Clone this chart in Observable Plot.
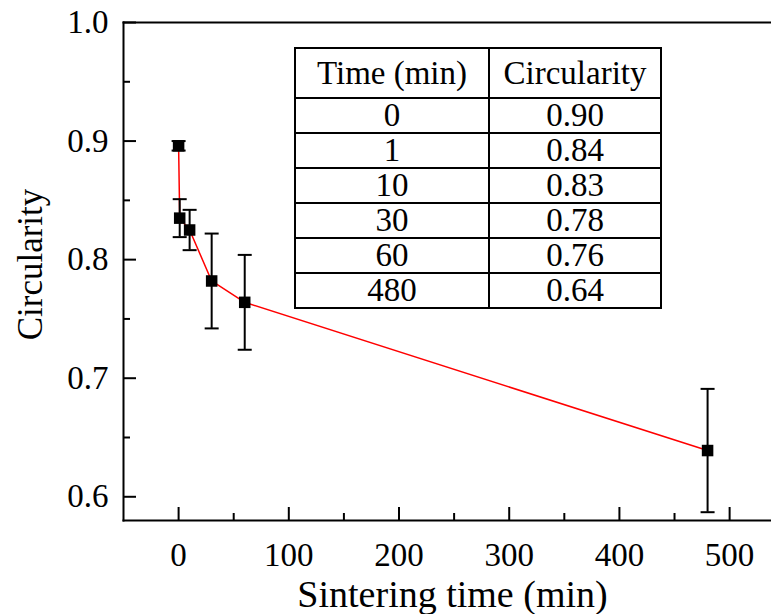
<!DOCTYPE html>
<html>
<head>
<meta charset="utf-8">
<script src="https://cdn.jsdelivr.net/npm/d3@7"></script>
<script src="https://cdn.jsdelivr.net/npm/@observablehq/plot@0.6"></script>
<style>
  html, body { margin: 0; padding: 0; background: #fff; }
  #wrap { position: relative; width: 771px; height: 614px; font-family: "Liberation Serif", "DejaVu Serif", serif; }
  #tbl { position: absolute; left: 294px; top: 47px; border-collapse: collapse; font-family: "Liberation Serif", "DejaVu Serif", serif; font-size: 33px; background: #fff; }
  #tbl td { border: 2px solid #000; padding: 0; text-align: center; line-height: 1; }
  #tbl tr.head td { height: 48px; }
  #tbl tr.row td { height: 31.6px; }
</style>
</head>
<body>
<div id="wrap"></div>
<script>
// ---- data ----
const times = [0, 1, 10, 30, 60, 480];
const circularity = [0.896, 0.835, 0.825, 0.782, 0.764, 0.639];
const errors = [0.004, 0.016, 0.017, 0.040, 0.040, 0.052];
const tableHeader = ["Time (min)", "Circularity"];
const tableTime = ["0", "1", "10", "30", "60", "480"];
const tableCirc = ["0.90", "0.84", "0.83", "0.78", "0.76", "0.64"];
const xTicks = [0, 100, 200, 300, 400, 500];
const xMinor = [50, 150, 250, 350, 450];
const yTicks = [0.6, 0.7, 0.8, 0.9, 1.0];
const yMinor = [0.65, 0.75, 0.85, 0.95];
const xLabel = "Sintering time (min)";
const yLabel = "Circularity";

const data = times.map((t, i) => ({t, c: circularity[i], e: errors[i]}));
const capSymbol = {draw(ctx) { ctx.moveTo(-7, 0); ctx.lineTo(7, 0); }};
const font = "'Liberation Serif', 'DejaVu Serif', serif";

const chart = Plot.plot({
  width: 771,
  height: 614,
  marginLeft: 123,
  marginTop: 22,
  marginRight: 0,
  marginBottom: 94,
  style: {fontFamily: font, fontSize: "32px", background: "#fff", color: "#000"},
  x: {domain: [-50, 538]},
  y: {domain: [0.58, 1.0]},
  marks: [
    Plot.frame({anchor: "top", strokeWidth: 2}),
    Plot.frame({anchor: "left", strokeWidth: 2}),
    Plot.frame({anchor: "bottom", strokeWidth: 2}),
    Plot.axisX(xTicks, {tickSize: -13, strokeWidth: 2, text: null, label: null}),
    Plot.axisX(xMinor, {tickSize: -7, strokeWidth: 2, text: null, label: null}),
    Plot.axisX(xTicks, {tickSize: 0, tickPadding: 22, fontSize: 33, label: null, tickFormat: d => String(d)}),
    Plot.axisY(yTicks, {tickSize: -13, strokeWidth: 2, text: null, label: null}),
    Plot.axisY(yMinor, {tickSize: -7, strokeWidth: 2, text: null, label: null}),
    Plot.axisY(yTicks, {tickSize: 0, tickPadding: 15, fontSize: 33, label: null, tickFormat: d => d.toFixed(1)}),
    Plot.text([xLabel], {frameAnchor: "bottom", textAnchor: "middle", lineAnchor: "middle", dx: 5, dy: 74, fontSize: 38, text: d => d}),
    Plot.text([yLabel], {frameAnchor: "left", textAnchor: "middle", lineAnchor: "middle", dx: -93, dy: -7, rotate: -90, fontSize: 35, text: d => d}),
    Plot.line(data, {x: "t", y: "c", stroke: "#ff0000", strokeWidth: 1.5}),
    Plot.ruleX(data, {x: "t", y1: d => d.c - d.e, y2: d => d.c + d.e, stroke: "#000", strokeWidth: 2}),
    Plot.dot(data, {x: "t", y: d => d.c + d.e, symbol: capSymbol, stroke: "#000", strokeWidth: 2, r: 7}),
    Plot.dot(data, {x: "t", y: d => d.c - d.e, symbol: capSymbol, stroke: "#000", strokeWidth: 2, r: 7}),
    Plot.dot(data, {x: "t", y: "c", symbol: "square", fill: "#000", stroke: "none", r: 6.5})
  ]
});

const wrap = document.getElementById("wrap");
wrap.appendChild(chart);

// table overlay
const table = document.createElement("table");
table.id = "tbl";
const cw = [192, 170];
const head = document.createElement("tr");
head.className = "head";
tableHeader.forEach((h, i) => {
  const td = document.createElement("td");
  td.textContent = h;
  td.style.width = cw[i] + "px";
  head.appendChild(td);
});
table.appendChild(head);
tableTime.forEach((t, i) => {
  const tr = document.createElement("tr");
  tr.className = "row";
  [t, tableCirc[i]].forEach(v => {
    const td = document.createElement("td");
    td.textContent = v;
    tr.appendChild(td);
  });
  table.appendChild(tr);
});
wrap.appendChild(table);
</script>
</body>
</html>
